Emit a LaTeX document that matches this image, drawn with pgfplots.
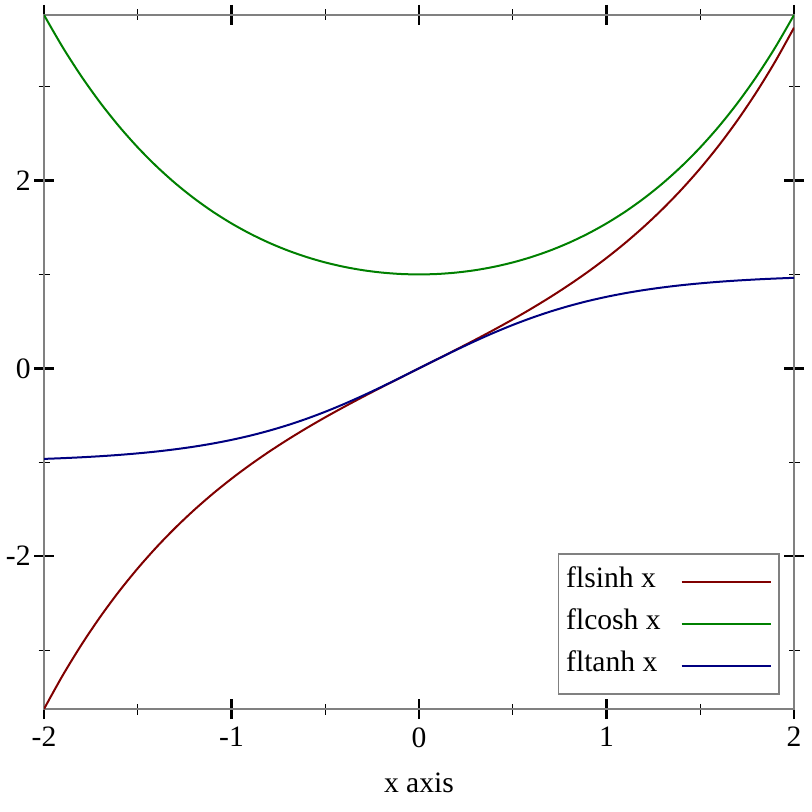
\documentclass[border=0pt]{standalone}
\usepackage{fontspec}
\setmainfont{Liberation Serif}
\usepackage{pgfplots}
\usepackage{pgfplotstable}
\pgfplotsset{compat=1.18}

\definecolor{sinhc}{RGB}{128,0,0}
\definecolor{coshc}{RGB}{0,128,0}
\definecolor{tanhc}{RGB}{0,0,128}

\pgfplotstableread{
x     s        c       t
-2.0 -3.6269  3.7622 -0.9640
-1.9 -3.2682  3.4177 -0.9562
-1.8 -2.9422  3.1075 -0.9468
-1.7 -2.6456  2.8283 -0.9354
-1.6 -2.3756  2.5775 -0.9217
-1.5 -2.1293  2.3524 -0.9051
-1.4 -1.9043  2.1509 -0.8854
-1.3 -1.6984  1.9709 -0.8617
-1.2 -1.5095  1.8107 -0.8337
-1.1 -1.3356  1.6685 -0.8005
-1.0 -1.1752  1.5431 -0.7616
-0.9 -1.0265  1.4331 -0.7163
-0.8 -0.8881  1.3374 -0.6640
-0.7 -0.7586  1.2552 -0.6044
-0.6 -0.6367  1.1855 -0.5370
-0.5 -0.5211  1.1276 -0.4621
-0.4 -0.4108  1.0811 -0.3799
-0.3 -0.3045  1.0453 -0.2913
-0.2 -0.2013  1.0201 -0.1974
-0.1 -0.1002  1.0050 -0.0997
 0.0  0.0000  1.0000  0.0000
 0.1  0.1002  1.0050  0.0997
 0.2  0.2013  1.0201  0.1974
 0.3  0.3045  1.0453  0.2913
 0.4  0.4108  1.0811  0.3799
 0.5  0.5211  1.1276  0.4621
 0.6  0.6367  1.1855  0.5370
 0.7  0.7586  1.2552  0.6044
 0.8  0.8881  1.3374  0.6640
 0.9  1.0265  1.4331  0.7163
 1.0  1.1752  1.5431  0.7616
 1.1  1.3356  1.6685  0.8005
 1.2  1.5095  1.8107  0.8337
 1.3  1.6984  1.9709  0.8617
 1.4  1.9043  2.1509  0.8854
 1.5  2.1293  2.3524  0.9051
 1.6  2.3756  2.5775  0.9217
 1.7  2.6456  2.8283  0.9354
 1.8  2.9422  3.1075  0.9468
 1.9  3.2682  3.4177  0.9562
 2.0  3.6269  3.7622  0.9640
}\hyp

\begin{document}
\fontsize{14.8}{17}\selectfont
\begin{tikzpicture}
\begin{axis}[
    scale only axis,
    width=375pt, height=347pt,
    xmin=-2, xmax=2,
    ymin=-3.6269, ymax=3.7622,
    axis line style={gray, line width=1pt},
    xtick={-2,-1,0,1,2},
    xticklabels={-2,-1,0,1,2},
    ytick={-2,0,2},
    yticklabels={-2,0,2},
    minor xtick={-1.5,-0.5,0.5,1.5},
    minor ytick={-3,-1,1,3},
    tick align=center,
    major tick length=10pt,
    minor tick length=5.5pt,
    major tick style={black, line width=1.2pt},
    minor tick style={black, line width=0.6pt},
    xticklabel style={font=\fontsize{14.8}{17}\selectfont, inner sep=0pt, anchor=north, yshift=-4pt},
    yticklabel style={font=\fontsize{14.8}{17}\selectfont, inner sep=0pt, anchor=east, xshift=-1.5pt},
    xlabel={x axis},
    xlabel style={font=\fontsize{14.8}{17}\selectfont},
    every axis x label/.style={at={(axis description cs:0.5,0)}, anchor=center, yshift=-37pt},
    legend plot pos=right,
    legend cell align=left,
    legend image code/.code={\draw[#1, line width=1pt] (0pt,0pt) -- (44.5pt,0pt);},
    legend style={
        at={(1,0)}, anchor=south east, xshift=-7pt, yshift=7pt,
        draw=gray, line width=0.8pt,
        font=\fontsize{14.8}{17}\selectfont,
        nodes={inner sep=0pt, text height=9pt, text depth=4pt},
        inner xsep=3.75pt, inner ysep=7.5pt,
        row sep=8pt, column sep=10pt,
    },
]
\addplot[sinhc, line width=1pt, smooth] table[x=x, y=s] {\hyp};
\addlegendentry{flsinh x}
\addplot[coshc, line width=1pt, smooth] table[x=x, y=c] {\hyp};
\addlegendentry{flcosh x}
\addplot[tanhc, line width=1pt, smooth] table[x=x, y=t] {\hyp};
\addlegendentry{fltanh x}
\end{axis}
\pgfresetboundingbox
\path[use as bounding box] ([shift={(-22pt,-51.5pt)}]current axis.south west) rectangle ([shift={(9pt,7.5pt)}]current axis.north east);
\end{tikzpicture}
\end{document}
